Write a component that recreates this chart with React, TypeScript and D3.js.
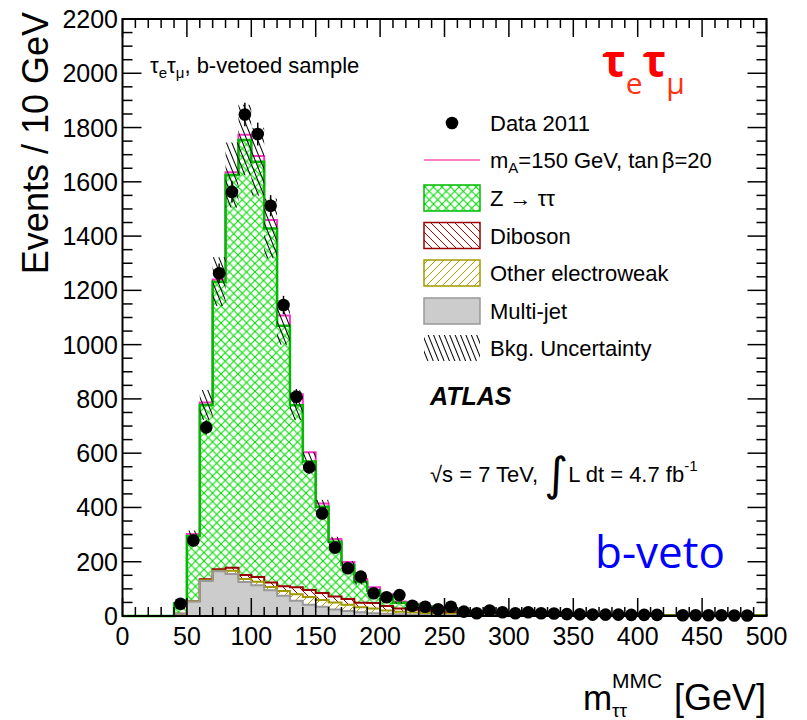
import React from "react";
import * as d3 from "d3";

// ---------------- DATA ----------------
const binLow = [0,10,20,30,40,50,60,70,80,90,100,110,120,130,140,150,160,170,180,190,200,210,220,230,240,250,260,270,280,290,300,310,320,330,340,350,360,370,380,390,400,410,420,430,440,450,460,470,480,490];
const binWidth = 10;

const multijet = [0,0,0,0,8,53,129,165,155,125,113,95,75,56,41,34,24,18,14,10,8,6,5,4,3,3,2,2,2,1,1,1,1,1,1,0.5,0.5,0.5,0.5,0.5,0.5,0.5,0.3,0.3,0.3,0.3,0.3,0.3,0.2,0.2];
const otherEW = [0,0,0,0,0,1,3,2,12,11,13,12,17,24,29,25,26,23,18,18,12,10,8,7,6,5,4,4,3,3,2,2,2,2,1.5,1.5,1.5,1,1,1,1,1,1,1,0.8,0.8,0.8,0.6,0.6,0.5];
const diboson = [0,0,0,0,0.5,1,3,5,11,15,18,16,18,26,26,26,22,22,17,20,17,12,10,8,7,6,5,4,4,3,3,2.5,2.5,2,2,2,1.5,1.5,1.5,1.2,1.2,1,1,1,0.8,0.8,0.8,0.7,0.7,0.6];
const ztautau = [0,0,0,0,38,240,643,1060,1447,1603,1530,1305,960,671,473,318,202,125,76,45,37,21,19,16,12,10,9,7,5,5,4,3.5,3,2.5,2,2,1.7,1.5,1.3,1.2,1,0.9,0.8,0.7,0.6,0.5,0.5,0.4,0.4,0.3];
const signal = [0,0,0,0,1,7,9,8,10,19,21,31,37,40,34,12,10,11,11,13,6,4,3,2,2,1,1,1,0.5,0.5,0.5,0.3,0.3,0.3,0.2,0.2,0.2,0.2,0.1,0.1,0.1,0.1,0.1,0.1,0.1,0.1,0.1,0.1,0.1,0.1];
const bkgUnc = [0,0,0,0,4,20,55,90,120,130,125,110,70,55,35,25,18,13,9,7,5,4,3,3,2,2,2,2,1,1,1,1,1,1,1,1,1,1,1,1,1,1,1,1,1,1,1,1,1,1];
const data = [0,0,0,0,45,278,695,1263,1563,1848,1776,1512,1146,808,548,378,252,176,145,84,69,77,38,34,25,34,16,10,20,14,10,14,10,9,7,6,5,5,5,4,4,4,0,3,3,3,3,2,2,0];

const yTicks = [0,200,400,600,800,1000,1200,1400,1600,1800,2000,2200];
const xTicks = [0,50,100,150,200,250,300,350,400,450,500];

// ---------------- LAYOUT ----------------
const W = 807, H = 720;
const x = d3.scaleLinear().domain([0, 500]).range([122.5, 766.5]);
const y = d3.scaleLinear().domain([0, 2200]).range([616, 19]);
const FONT = "'Liberation Sans', Arial, Helvetica, sans-serif";

const cum = (arrs: number[][]) => binLow.map((_, i) => arrs.reduce((s, a) => s + a[i], 0));
const cMJ = cum([multijet]);
const cEW = cum([multijet, otherEW]);
const cDB = cum([multijet, otherEW, diboson]);
const cZT = cum([multijet, otherEW, diboson, ztautau]);
const cSIG = cum([multijet, otherEW, diboson, ztautau, signal]);

function stepLine(vals: number[]) {
  let d = `M${x(binLow[0])},${y(0)}`;
  vals.forEach((v, i) => {
    d += `L${x(binLow[i])},${y(v)}L${x(binLow[i] + binWidth)},${y(v)}`;
  });
  d += `L${x(binLow[binLow.length - 1] + binWidth)},${y(0)}`;
  return d;
}
function band(lo: number[], hi: number[]) {
  let d = "";
  hi.forEach((v, i) => {
    d += `${i === 0 ? "M" : "L"}${x(binLow[i])},${y(v)}L${x(binLow[i] + binWidth)},${y(v)}`;
  });
  for (let i = lo.length - 1; i >= 0; i--) {
    d += `L${x(binLow[i] + binWidth)},${y(lo[i])}L${x(binLow[i])},${y(lo[i])}`;
  }
  return d + "Z";
}

const legendRows = [123, 160, 198, 235.5, 273, 311, 348];

export default function App() {
  const xMinor = d3.range(0, 501, 10);
  const yMinor = d3.range(0, 2201, 50);
  const x0 = x(0), x1 = x(500), y0 = y(0), y1 = y(2200);
  return (
    <svg width={W} height={H} style={{ position: "absolute", left: 0, top: 0, background: "#fff" }} fontFamily={FONT}>
      <defs>
        <pattern id="zHatch" patternUnits="userSpaceOnUse" width="8.5" height="8.5">
          <rect width="8.5" height="8.5" fill="#fff" />
          <path d="M0,0L8.5,8.5M0,8.5L8.5,0" stroke="#00dd00" strokeWidth="1.1" />
        </pattern>
        <pattern id="dbHatch" patternUnits="userSpaceOnUse" width="8" height="8">
          <rect width="8" height="8" fill="#fff" />
          <path d="M0,0L8,8M-2,6L2,10M6,-2L10,2" stroke="#aa0000" strokeWidth="1" />
        </pattern>
        <pattern id="ewHatch" patternUnits="userSpaceOnUse" width="8" height="8">
          <rect width="8" height="8" fill="#fff" />
          <path d="M0,8L8,0M-2,2L2,-2M6,10L10,6" stroke="#b0a000" strokeWidth="1" />
        </pattern>
        <pattern id="uncHatch" patternUnits="userSpaceOnUse" width="5" height="10" patternTransform="rotate(-22)">
          <path d="M1.5,-1L1.5,11" stroke="#000" strokeWidth="1" />
        </pattern>
      </defs>

      {/* stacked fills */}
      <path d={band(cDB, cZT)} fill="url(#zHatch)" />
      <path d={band(cEW, cDB)} fill="url(#dbHatch)" />
      <path d={band(cMJ, cEW)} fill="url(#ewHatch)" />
      <path d={band(cMJ.map(() => 0), cMJ)} fill="#cccccc" />

      {/* outlines */}
      <path d={stepLine(cSIG)} fill="none" stroke="#ff33cc" strokeWidth="2" />
      <path d={stepLine(cZT)} fill="none" stroke="#00bb00" strokeWidth="2.5" />
      <path d={stepLine(cDB)} fill="none" stroke="#990000" strokeWidth="2" />
      <path d={stepLine(cEW)} fill="none" stroke="#a09a00" strokeWidth="2" />
      <path d={stepLine(cMJ)} fill="none" stroke="#999999" strokeWidth="2" />

      {/* background uncertainty */}
      {binLow.map((b, i) =>
        bkgUnc[i] > 0 ? (
          <rect key={"u" + i} x={x(b)} width={x(b + binWidth) - x(b)}
            y={y(cZT[i] + bkgUnc[i])} height={y(Math.max(0, cZT[i] - bkgUnc[i])) - y(cZT[i] + bkgUnc[i])}
            fill="url(#uncHatch)" />
        ) : null
      )}

      {/* axes ticks */}
      {xMinor.map((v) => {
        const L = v % 50 === 0 ? 18 : 9;
        return (
          <g key={"xt" + v} stroke="#000" strokeWidth="1.5">
            <line x1={x(v)} x2={x(v)} y1={y0} y2={y0 - L} />
            <line x1={x(v)} x2={x(v)} y1={y1} y2={y1 + L} />
          </g>
        );
      })}
      {yMinor.map((v) => {
        const L = v % 200 === 0 ? 19 : 10;
        return (
          <g key={"yt" + v} stroke="#000" strokeWidth="1.5">
            <line x1={x0} x2={x0 + L} y1={y(v)} y2={y(v)} />
            <line x1={x1} x2={x1 - L} y1={y(v)} y2={y(v)} />
          </g>
        );
      })}
      <rect x={x0} y={y1} width={x1 - x0} height={y0 - y1} fill="none" stroke="#000" strokeWidth="2" />

      {/* tick labels */}
      {yTicks.map((v) => (
        <text key={"yl" + v} x={118} y={y(v) + 9} fontSize="25" textAnchor="end">{v}</text>
      ))}
      {xTicks.map((v) => (
        <text key={"xl" + v} x={x(v)} y={645} fontSize="25" textAnchor="middle">{v}</text>
      ))}

      {/* data */}
      {binLow.map((b, i) =>
        data[i] > 0 ? (
          <g key={"d" + i}>
            <line x1={x(b + binWidth / 2)} x2={x(b + binWidth / 2)}
              y1={y(data[i] + Math.sqrt(data[i]))} y2={y(Math.max(0, data[i] - Math.sqrt(data[i])))}
              stroke="#000" strokeWidth="1.5" />
            <circle cx={x(b + binWidth / 2)} cy={y(data[i])} r={6.3} fill="#000" />
          </g>
        ) : null
      )}

      {/* axis titles */}
      <text transform="translate(48,12) rotate(-90)" fontSize="36" textAnchor="end">Events / 10 GeV</text>
      <text x={583} y={710} fontSize="35">m</text>
      <text x={612} y={688} fontSize="21">MMC</text>
      <text x={612} y={717} fontSize="19">ττ</text>
      <text x={674} y={710} fontSize="36">[GeV]</text>

      {/* top-left label */}
      <text x={150} y={73} fontSize="22">
        τ<tspan fontSize="15" dy="5">e</tspan><tspan dy="-5">τ</tspan><tspan fontSize="15" dy="5">μ</tspan><tspan dy="-5">, b-vetoed sample</tspan>
      </text>

      {/* red channel label */}
      <text x={602} y={77} fill="#ff0000" fontFamily="'Open Sans', 'Noto Sans', sans-serif" fontSize="44" fontWeight="bold">
        τ<tspan fontSize="30" fontWeight="normal" fill="#ff3311" dy="17">e</tspan><tspan dy="-17">τ</tspan><tspan fontSize="30" fontWeight="normal" fill="#ff3311" dy="17">μ</tspan>
      </text>

      {/* legend */}
      <circle cx={452} cy={legendRows[0]} r={6.3} fill="#000" />
      <text x={490} y={legendRows[0] + 8} fontSize="22">Data 2011</text>

      <line x1={424} x2={480} y1={legendRows[1]} y2={legendRows[1]} stroke="#ff55bb" strokeWidth="1.5" />
      <text x={490} y={legendRows[1] + 8} fontSize="22">
        m<tspan fontSize="15" dy="5">A</tspan><tspan dy="-5">=150 GeV, tan</tspan><tspan dx="3">β=20</tspan>
      </text>

      <rect x={424} y={legendRows[2] - 13} width={56} height={26} fill="url(#zHatch)" stroke="#00bb00" strokeWidth="1.5" />
      <text x={490} y={legendRows[2] + 8} fontSize="22">Z → ττ</text>

      <rect x={424} y={legendRows[3] - 13} width={56} height={26} fill="url(#dbHatch)" stroke="#990000" strokeWidth="1.5" />
      <text x={490} y={legendRows[3] + 8} fontSize="22">Diboson</text>

      <rect x={424} y={legendRows[4] - 13} width={56} height={26} fill="url(#ewHatch)" stroke="#a09a00" strokeWidth="1.5" />
      <text x={490} y={legendRows[4] + 8} fontSize="22">Other electroweak</text>

      <rect x={424} y={legendRows[5] - 13} width={56} height={26} fill="#cccccc" stroke="#999999" strokeWidth="1.5" />
      <text x={490} y={legendRows[5] + 8} fontSize="22">Multi-jet</text>

      <rect x={424} y={legendRows[6] - 13} width={56} height={26} fill="url(#uncHatch)" />
      <text x={490} y={legendRows[6] + 8} fontSize="22">Bkg. Uncertainty</text>

      {/* ATLAS */}
      <text x={430} y={405} fontSize="25" fontWeight="bold" fontStyle="italic">ATLAS</text>

      {/* energy / lumi */}
      <text x={430} y={482} fontSize="22">
        √s = 7 TeV, <tspan fontSize="46" dy="8" fontFamily="'DejaVu Sans', sans-serif">∫</tspan><tspan dy="-8">L dt = 4.7 fb</tspan><tspan fontSize="15" dy="-11">-1</tspan>
      </text>

      {/* b-veto */}
      <text x={595} y={568} fill="#0000ff" fontFamily="'Open Sans', 'Noto Sans', sans-serif" fontSize="44">b-veto</text>
    </svg>
  );
}
